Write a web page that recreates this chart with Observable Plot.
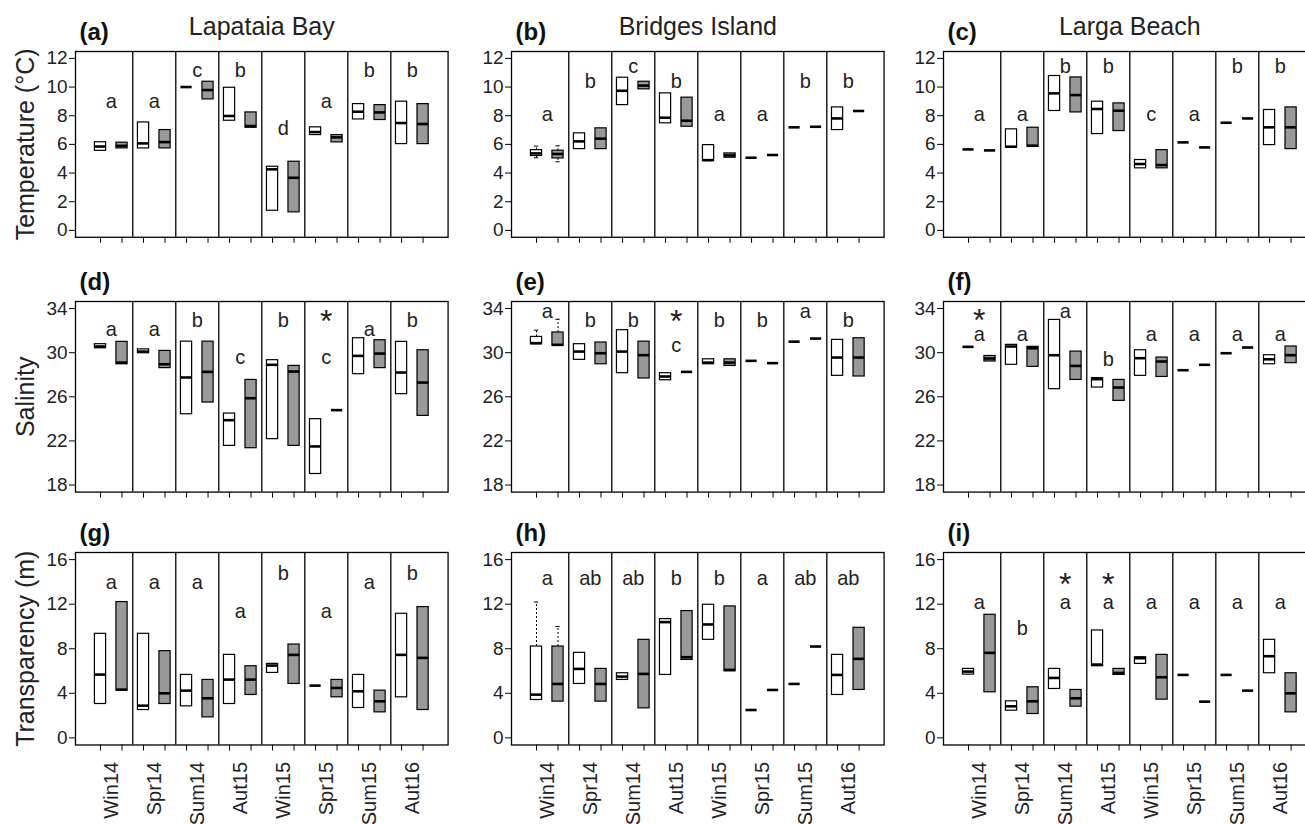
<!DOCTYPE html>
<html>
<head>
<meta charset="utf-8">
<script src="https://cdn.jsdelivr.net/npm/d3@7"></script>
<script src="https://cdn.jsdelivr.net/npm/@observablehq/plot@0.6"></script>
<style>
html, body { margin: 0; padding: 0; background: #fff; overflow: hidden; }
#chart { position: relative; width: 1305px; height: 824px; overflow: hidden; background: #fff; }
</style>
</head>
<body>
<div id="chart"></div>
<script>
// ---------- data ----------
const seasons = ["Win14", "Spr14", "Sum14", "Aut15", "Win15", "Spr15", "Sum15", "Aut16"];
const sites = ["Lapataia Bay", "Bridges Island", "Larga Beach"];
const yTitles = ["Temperature (°C)", "Salinity", "Transparency (m)"];
const tempTicks = [0, 2, 4, 6, 8, 10, 12];
const salTicks = [18, 22, 26, 30, 34];
const transTicks = [0, 4, 8, 12, 16];

// each entry: [lower quartile, median, upper quartile]; open boxes (W) and filled boxes (G)
const aW = [[5.55,5.85,6.15],[5.72,6.07,7.53],[10.0,10.0,10.0],[7.65,7.98,9.95],[1.37,4.26,4.44],[6.65,6.86,7.19],[7.74,8.28,8.81],[6.02,7.49,8.98]];
const aG = [[5.72,5.9,6.12],[5.72,6.16,7.0],[9.14,9.79,10.37],[7.16,7.28,8.23],[1.26,3.67,4.79],[6.14,6.49,6.65],[7.7,8.23,8.74],[6.02,7.42,8.81]];
const bW = [[5.19,5.37,5.6],[5.67,6.21,6.77],[8.74,9.74,10.65],[7.47,7.86,9.56],[4.84,4.9,5.95],[5.07,5.07,5.07],[7.19,7.19,7.19],[7.0,7.81,8.58]];
const bG = [[5.02,5.33,5.56],[5.67,6.4,7.12],[9.84,10.1,10.37],[7.23,7.65,9.26],[5.07,5.23,5.37],[5.26,5.26,5.26],[7.23,7.23,7.23],[8.33,8.33,8.33]];
const cW = [[5.65,5.65,5.65],[5.77,5.84,7.05],[8.33,9.56,10.77],[6.72,8.47,8.98],[4.33,4.63,4.91],[6.14,6.14,6.14],[7.51,7.51,7.51],[5.95,7.19,8.4]];
const cG = [[5.58,5.58,5.58],[5.84,5.91,7.16],[8.23,9.44,10.67],[6.93,8.35,8.86],[4.33,4.56,5.6],[5.79,5.79,5.79],[7.81,7.81,7.81],[5.67,7.19,8.58]];
const dW = [[30.4,30.56,30.77],[29.95,30.1,30.3],[24.42,27.75,31.0],[21.55,23.88,24.48],[22.16,28.9,29.32],[19.0,21.5,23.97],[28.05,29.71,31.31],[26.24,28.2,30.98]];
const dG = [[28.95,29.1,30.98],[28.6,28.95,30.16],[25.48,28.26,31.0],[21.34,25.87,27.53],[21.55,28.29,28.8],[24.79,24.79,24.79],[28.6,29.92,31.13],[24.27,27.29,30.22]];
const eW = [[30.77,30.86,31.43],[29.35,30.1,30.77],[28.14,30.1,32.04],[27.5,27.84,28.14],[28.95,29.1,29.4],[29.26,29.26,29.26],[31.0,31.0,31.0],[27.9,29.56,31.16]];
const eG = [[30.62,30.71,31.83],[28.95,29.95,30.92],[27.66,29.77,31.0],[28.26,28.26,28.26],[28.8,29.1,29.4],[29.05,29.05,29.05],[31.28,31.28,31.28],[27.84,29.56,31.31]];
const fW = [[30.53,30.53,30.53],[28.9,30.56,30.71],[26.69,29.77,32.97],[26.84,27.6,27.69],[27.9,29.5,30.22],[28.41,28.41,28.41],[29.95,29.95,29.95],[28.95,29.4,29.77]];
const fG = [[29.2,29.47,29.7],[28.71,30.4,30.53],[27.53,28.8,30.1],[25.63,26.84,27.53],[27.8,29.2,29.56],[28.9,28.9,28.9],[30.47,30.47,30.47],[29.05,29.77,30.56]];
const gW = [[3.04,5.68,9.34],[2.5,2.89,9.34],[2.83,4.24,5.65],[3.04,5.23,7.45],[5.83,6.49,6.64],[4.69,4.69,4.69],[2.68,4.18,5.65],[3.64,7.45,11.14]];
const gG = [[4.24,4.33,12.19],[3.04,4.0,7.78],[1.84,3.55,5.2],[3.85,5.23,6.43],[4.84,7.45,8.38],[3.64,4.48,5.2],[2.29,3.28,4.24],[2.5,7.18,11.74]];
const hW = [[3.4,3.88,8.2],[4.84,6.19,7.63],[5.2,5.5,5.8],[5.65,10.39,10.66],[8.8,10.18,11.95],[2.5,2.5,2.5],[4.84,4.84,4.84],[3.85,5.65,7.45]];
const hG = [[3.25,4.84,8.2],[3.25,4.84,6.19],[2.65,5.74,8.8],[7.0,7.24,11.38],[5.98,6.1,11.8],[4.3,4.3,4.3],[8.2,8.2,8.2],[4.3,7.09,9.88]];
const iW = [[5.68,5.95,6.19],[2.44,2.83,3.28],[4.39,5.38,6.19],[6.43,6.58,9.64],[6.64,7.15,7.24],[5.65,5.65,5.65],[5.65,5.65,5.65],[5.8,7.33,8.8]];
const iG = [[4.09,7.63,11.05],[2.14,3.28,4.54],[2.8,3.55,4.3],[5.65,5.83,6.19],[3.43,5.44,7.45],[3.25,3.25,3.25],[4.24,4.24,4.24],[2.29,4.0,5.8]];

// significance letters and the value at which each letter sits (baseline)
const aL = ["a","a","c","b","d","a","b","b"], aLy = [8.51,8.51,10.72,10.72,6.65,8.51,10.72,10.72];
const bL = ["a","b","c","b","a","a","b","b"], bLy = [7.65,9.91,11.0,9.91,7.65,7.65,9.91,9.91];
const cL = ["a","a","b","b","c","a","b","b"], cLy = [7.65,7.65,11.0,11.0,7.65,7.65,11.0,11.0];
const dL = ["a","a","b","c","b","c","a","b"], dLy = [31.52,31.52,32.37,28.95,32.37,28.95,31.52,32.37];
const eL = ["a","b","b","c","b","b","a","b"], eLy = [33.12,32.37,32.37,30.1,32.37,32.37,33.12,32.37];
const fL = ["a","a","a","b","a","a","a","a"], fLy = [31.07,31.07,33.18,28.8,31.07,31.07,31.07,31.07];
const gL = ["a","a","a","a","b","a","a","b"], gLy = [13.39,13.39,13.39,10.78,14.2,10.78,13.39,14.2];
const hL = ["a","ab","ab","b","b","a","ab","ab"], hLy = [13.69,13.69,13.69,13.69,13.69,13.69,13.69,13.69];
const iL = ["a","b","a","a","a","a","a","a"], iLy = [11.53,9.25,11.53,11.53,11.53,11.53,11.53,11.53];

// asterisks: panel, season index, value of the top of the mark
const stars = [
  {panel: "d", season: 5, top: 33.94},
  {panel: "e", season: 3, top: 33.94},
  {panel: "f", season: 0, top: 34.0},
  {panel: "i", season: 2, top: 14.89},
  {panel: "i", season: 3, top: 14.89}
];
// whiskers: panel, season index, series (0 open, 1 filled), min/max
const whiskers = [
  {panel: "b", season: 0, s: 0, min: 5.07, max: 5.88},
  {panel: "b", season: 0, s: 1, min: 4.79, max: 5.9},
  {panel: "e", season: 0, s: 0, min: null, max: 32.04},
  {panel: "e", season: 0, s: 1, min: null, max: 33.03},
  {panel: "h", season: 0, s: 0, min: null, max: 12.19},
  {panel: "h", season: 0, s: 1, min: null, max: 10.0}
];

// ---------- layout ----------
const panels = [
  {id: "a", row: 0, col: 0, W: aW, G: aG, L: aL, Ly: aLy},
  {id: "b", row: 0, col: 1, W: bW, G: bG, L: bL, Ly: bLy},
  {id: "c", row: 0, col: 2, W: cW, G: cG, L: cL, Ly: cLy},
  {id: "d", row: 1, col: 0, W: dW, G: dG, L: dL, Ly: dLy},
  {id: "e", row: 1, col: 1, W: eW, G: eG, L: eL, Ly: eLy},
  {id: "f", row: 1, col: 2, W: fW, G: fG, L: fL, Ly: fLy},
  {id: "g", row: 2, col: 0, W: gW, G: gG, L: gL, Ly: gLy},
  {id: "h", row: 2, col: 1, W: hW, G: hG, L: hL, Ly: hLy},
  {id: "i", row: 2, col: 2, W: iW, G: iG, L: iL, Ly: iLy}
];
const rowGeom = [
  {top: 51.4, bottom: 237.2, domain: [-0.48, 12.48], ticks: tempTicks},
  {top: 300.6, bottom: 491.2, domain: [17.36, 34.64], ticks: salTicks},
  {top: 552.2, bottom: 744.7, domain: [-0.64, 16.64], ticks: transTicks}
];
const colLeft = [75, 510.7, 943.3];
const frameW = 372.6;
const HALF = 0.26;
const FONT = "'Liberation Sans', Arial, Helvetica, sans-serif";

const chart = document.getElementById("chart");
const nSlots = seasons.length * 2;
const dividers = d3.range(1, seasons.length).map(k => 2 * k - 0.5);
const centers = seasons.map((s, k) => 2 * k + 0.5);
const slotTicks = d3.range(nSlots);

for (const p of panels) {
  const g = rowGeom[p.row];
  const ml = 75, mr = 6, mt = 52, mb = p.row === 2 ? 95 : 14;
  const toBox = (arr, s) => arr.map(([lo, med, hi], k) => ({pos: 2 * k + s, lo, med, hi}));
  const open = toBox(p.W, 0), filled = toBox(p.G, 1);
  const all = open.concat(filled);
  const letters = p.L.map((t, k) => ({x: 2 * k + 0.5, y: p.Ly[k], t}));
  const st = stars.filter(d => d.panel === p.id).map(d => ({x: 2 * d.season + 0.5, y: d.top}));
  const wh = whiskers.filter(d => d.panel === p.id).map(d => {
    const box = (d.s === 0 ? open : filled)[d.season];
    return {pos: box.pos, lo: box.lo, hi: box.hi, min: d.min, max: d.max};
  });
  const whUp = wh.filter(d => d.max != null);
  const whDn = wh.filter(d => d.min != null);

  const marks = [
    Plot.ruleX(dividers, {stroke: "black", strokeWidth: 1.3}),
    Plot.ruleX(whUp, {x: "pos", y1: "hi", y2: "max", stroke: "black", strokeWidth: 1, strokeDasharray: "2,2"}),
    Plot.ruleY(whUp, {y: "max", x1: d => d.pos - 0.1, x2: d => d.pos + 0.1, stroke: "black", strokeWidth: 1}),
    Plot.ruleX(whDn, {x: "pos", y1: "lo", y2: "min", stroke: "black", strokeWidth: 1, strokeDasharray: "2,2"}),
    Plot.ruleY(whDn, {y: "min", x1: d => d.pos - 0.1, x2: d => d.pos + 0.1, stroke: "black", strokeWidth: 1}),
    Plot.rect(open, {x1: d => d.pos - HALF, x2: d => d.pos + HALF, y1: "lo", y2: "hi", fill: "white", stroke: "black", strokeWidth: 1.2}),
    Plot.rect(filled, {x1: d => d.pos - HALF, x2: d => d.pos + HALF, y1: "lo", y2: "hi", fill: "#999999", stroke: "black", strokeWidth: 1.2}),
    Plot.ruleY(all, {y: "med", x1: d => d.pos - HALF, x2: d => d.pos + HALF, stroke: "black", strokeWidth: 2.6}),
    Plot.text(letters, {x: "x", y: "y", text: "t", lineAnchor: "bottom", fontSize: 20, fill: "#222"}),
    Plot.text(st, {x: "x", y: "y", text: () => "*", lineAnchor: "top", fontSize: 32, fill: "#222"}),
    Plot.axisY(g.ticks, {tickSize: 6, tickPadding: 2, fontSize: 19, label: null, fill: "#222"}),
    Plot.axisX(slotTicks, {tickSize: 6, tickFormat: () => "", label: null}),
    Plot.frame({stroke: "black", strokeWidth: 1.3}),
    Plot.text([`(${p.id})`], {frameAnchor: "top-left", textAnchor: "start", lineAnchor: "bottom", dx: 4, dy: -11, fontWeight: "bold", fontSize: 24, fill: "#111"})
  ];
  if (p.row === 2) {
    marks.push(Plot.axisX(centers, {tickSize: 0, tickPadding: 17, tickRotate: -90, tickFormat: (d, i) => seasons[i], fontSize: 20, label: null, fill: "#222"}));
  }
  if (p.row === 0) {
    marks.push(Plot.text([sites[p.col]], {frameAnchor: "top", lineAnchor: "bottom", dy: -16, fontSize: 25, fill: "#222"}));
  }
  if (p.col === 0) {
    marks.push(Plot.text([yTitles[p.row]], {frameAnchor: "left", rotate: -90, dx: -50, textAnchor: "middle", lineAnchor: "middle", fontSize: 25, fill: "#222"}));
  }

  const svg = Plot.plot({
    width: ml + frameW + mr,
    height: mt + (g.bottom - g.top) + mb,
    marginLeft: ml, marginRight: mr, marginTop: mt, marginBottom: mb,
    x: {domain: [-1.163, nSlots - 1 + 1.163]},
    y: {domain: g.domain},
    style: {background: "transparent", overflow: "visible", fontFamily: FONT, color: "black", maxWidth: "none"},
    marks
  });
  svg.style.position = "absolute";
  svg.style.left = (colLeft[p.col] - ml) + "px";
  svg.style.top = (g.top - mt) + "px";
  chart.appendChild(svg);
}
</script>
</body>
</html>
